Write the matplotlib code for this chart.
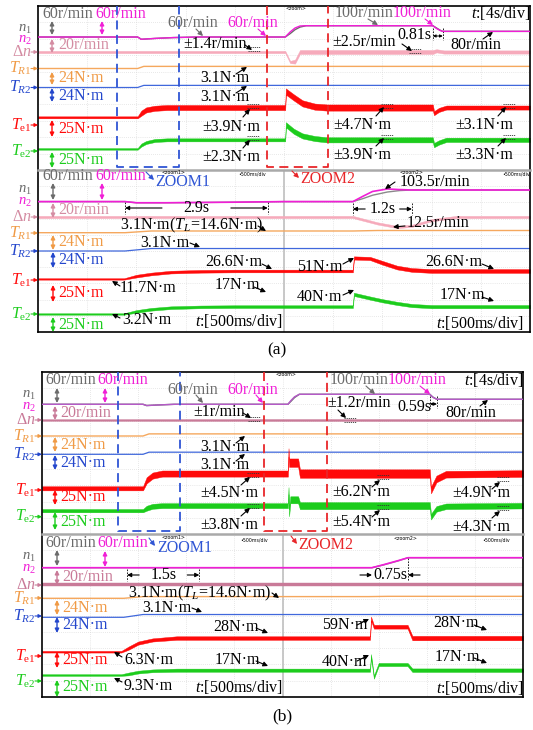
import numpy as np
import matplotlib.pyplot as plt

plt.rcParams['font.family'] = ['Liberation Serif', 'DejaVu Serif']
plt.rcParams['mathtext.fontset'] = 'custom'
plt.rcParams['mathtext.rm'] = 'Liberation Serif'
plt.rcParams['mathtext.it'] = 'Liberation Serif:italic'

W, H = 533, 730
FS = 11.5

C_N1 = '#6b6b6b'
C_N2 = '#f01ed6'
C_DN_A = '#f6aabb'
C_DN_AT = '#d48ca2'
C_DN_B = '#c97a98'
C_TR1 = '#f5a85e'
C_TR1T = '#f09a45'
C_TR2 = '#4068dc'
C_TR2T = '#2346cc'
C_TE1 = '#ff0a0a'
C_TE2 = '#1ccc1c'
C_Z1 = '#2f55d4'
C_Z2 = '#e8262a'

# ---------------- (a) overview, 4 s/div ----------------
a_tn = [0, 8.1, 8.4, 9.5, 11.0, 13.0, 20.1, 20.5, 20.9, 21.3, 21.8, 32.1, 32.4, 32.7, 32.9, 40]
a_n2 = [60, 60, 52, 55, 58, 60, 60, 78, 92, 99, 100, 100, 90, 83, 80, 80]
a_n1 = [60, 60, 52, 55, 58, 60, 60, 72, 86, 95, 100, 100, 92, 84, 80, 80]
a_tdn = [0, 20.1, 20.5, 20.9, 21.3, 32.1, 32.4, 33.0, 40]
a_dn = [0, 0, -12.5, -12, 0, 0, 1.5, 0, 0]
a_dn_rip = [1.4, 1.4, 1.4, 2.5, 2.5, 2.5, 2.0, 2.0, 2.0]
a_ttr = [0, 8.1, 8.6, 40]
a_tr1 = [0, 0, 3.1, 3.1]
a_tr2 = [0, 0, 3.1, 3.1]
a_tte = [0, 8.1, 8.4, 8.8, 9.5, 10.5, 20.1, 20.15, 20.8, 21.5, 22.5, 23.5, 32.1, 32.2, 32.6, 33.2, 40]
a_te1 = [11.7, 11.7, 18, 23, 25.5, 26.6, 26.6, 51, 42, 33, 28, 26.6, 26.6, 18, 23, 26.6, 26.6]
a_te2 = [3.2, 3.2, 9, 13, 16, 17, 17, 40, 30, 23, 19, 17, 17, 9, 13, 17, 17]
a_te1_rip = [1.5, 1.5, 3.9, 3.9, 3.9, 3.9, 3.9, 4.7, 4.7, 4.7, 4.7, 4.7, 4.7, 3.1, 3.1, 3.1, 3.1]
a_te2_rip = [1.2, 1.2, 2.3, 2.3, 2.3, 2.3, 2.3, 3.9, 3.9, 3.9, 3.9, 3.9, 3.9, 3.3, 3.3, 3.3, 3.3]
a_zoom1 = (6.4, 11.5)
a_zoom2 = (18.6, 23.6)
a_fall = (32.1, 32.91)

# ---------------- (a) zoomed, local time ----------------
az_tn = [0, 1.77, 2.0, 2.6, 4.0, 5.0, 6.4, 6.6, 6.8, 7.1, 7.35, 7.6, 10]
az_n2 = [60, 60, 56, 56, 58, 60, 60, 78, 95, 103.5, 101.5, 100, 100]
az_n1 = [60, 60, 56, 56, 58, 60, 60, 70, 82, 93, 98, 100, 100]
az_tdn = [0, 6.4, 6.9, 7.3, 7.6, 8.0, 8.5, 10]
az_dn = [0, 0, -8, -12.5, -11, -4, 0, 0]
az_dn_rip = [1.4, 1.4, 1.4, 1.4, 1.4, 1.4, 1.4, 1.4]
az_ttr = [0, 1.77, 2.3, 6.4, 6.9, 10]
az_tr1 = [0, 0, 3.1, 3.1, 4.0, 4.0]
az_tr2 = [0, 0, 3.1, 3.1, 3.1, 3.1]
az_tte = [0, 1.75, 2.0, 2.3, 2.7, 3.3, 4.0, 6.4, 6.42, 6.75, 7.0, 7.3, 7.6, 8.0, 10]
az_te1 = [11.7, 11.7, 17, 21, 24.5, 26, 26.6, 26.6, 51, 50, 42, 33, 28.5, 26.6, 26.6]
az_te2 = [3.2, 3.2, 8, 12, 15, 16.5, 17, 17, 40, 33, 28, 23, 19, 17, 17]
az_te1_rip = [1.3, 1.3, 2.5, 2.5, 2.5, 2.5, 2.5, 2.5, 3.0, 3.0, 3.5, 3.5, 3.5, 3.5, 3.5]
az_te2_rip = [1.3, 1.3, 2.5, 2.5, 2.5, 2.5, 2.5, 2.5, 3.0, 3.0, 3.0, 3.0, 3.0, 3.0, 3.0]
az_load = (1.77, 1.77 + 2.9)
az_speed = (6.4, 6.4 + 1.2)

# ---------------- (b) overview, 4 s/div ----------------
b_tn = [0, 8.4, 8.7, 9.5, 11.0, 20.45, 20.7, 21.0, 21.4, 32.25, 32.5, 32.84, 40]
b_n2 = [60, 60, 55, 57, 60, 60, 75, 90, 100, 100, 88, 80, 80]
b_n1 = [60, 60, 55, 57, 60, 60, 72, 87, 100, 100, 89, 80, 80]
b_tdn = [0, 20.45, 40]
b_dn = [0, 0, 0]
b_dn_rip = [1.0, 1.2, 1.2]
b_ttr = [0, 8.4, 8.9, 40]
b_tr1 = [0, 0, 3.1, 3.1]
b_tr2 = [0, 0, 3.1, 3.1]
b_tte = [0, 8.4, 8.7, 9.2, 10.0, 20.45, 20.5, 20.55, 20.65, 21.3, 21.45, 32.25, 32.35, 32.8, 33.6, 40]
b_te1 = [6.3, 6.3, 18, 25, 28, 28, 59, 44, 44, 44, 28, 28, 3.8, 20, 27, 28]
b_te2 = [9.3, 9.3, 13, 16, 17, 17, 40, 6, 26, 26, 17, 17, 0, 12, 16, 17]
b_te1_rip = [3.0, 3.0, 4.5, 4.5, 4.5, 4.5, 6.2, 6.2, 6.2, 6.2, 6.2, 6.2, 4.9, 4.9, 4.9, 4.9]
b_te2_rip = [2.5, 2.5, 3.8, 3.8, 3.8, 3.8, 5.4, 5.4, 5.4, 5.4, 5.4, 5.4, 4.3, 4.3, 4.3, 4.3]
b_zoom1 = (6.3, 11.5)
b_zoom2 = (18.5, 23.7)
b_fall = (32.25, 32.84)

# ---------------- (b) zoomed, local time ----------------
bz_tn = [0, 6.86, 7.1, 7.4, 7.61, 10]
bz_n2 = [60, 60, 72, 88, 100, 100]
bz_n1 = [60, 60, 71, 87, 100, 100]
bz_tdn = [0, 10]
bz_dn = [0, 0]
bz_dn_rip = [1.6, 1.6]
bz_ttr = [0, 1.7, 2.1, 6.8, 7.2, 10]
bz_tr1 = [0, 0, 3.1, 3.1, 3.6, 3.6]
bz_tr2 = [0, 0, 3.1, 3.1, 3.1, 3.1]
bz_tte = [0, 1.65, 1.8, 2.0, 2.3, 2.8, 6.82, 6.84, 6.9, 7.0, 7.6, 7.7, 10]
bz_te1 = [6.3, 6.3, 12, 20, 25, 28, 28, 59, 46, 46, 46, 28, 28]
bz_te2 = [9.3, 9.3, 11, 14, 16, 17, 17, 40, 6, 26, 26, 17, 17]
bz_te1_rip = [1.3, 1.3, 2.5, 2.5, 2.5, 2.8, 2.8, 3.0, 3.0, 3.0, 3.0, 3.5, 3.5]
bz_te2_rip = [1.3, 1.3, 2.2, 2.2, 2.2, 2.5, 2.5, 2.5, 2.5, 2.5, 2.5, 2.8, 2.8]
bz_load = (1.77, 1.77 + 1.5)
bz_speed = (6.86, 6.86 + 0.75)

# screen boxes (pixels) and channel ground row / pixels per unit
BOX = {'a': (38, 6, 530, 170), 'az': (38, 170, 530, 332),
       'b': (42, 372, 523, 534), 'bz': (42, 534, 523, 697)}
CH = {
    'a': dict(n=(54, 0.283), dn=(52, 0.8), tr1=(68.5, 0.683), tr2=(87.5, 0.683), te1=(125, 0.656), te2=(151, 0.656)),
    'az': dict(n=(219, 0.29), dn=(217, 0.8), tr1=(232.7, 0.55), tr2=(251, 0.8), te1=(285.2, 0.534), te2=(315.7, 0.534)),
    'b': dict(n=(419.3, 0.25), dn=(420, 0.8), tr1=(436, 0.683), tr2=(454.3, 0.683), te1=(492.6, 0.68), te2=(516.7, 0.65)),
    'bz': dict(n=(582.7, 0.25), dn=(584.3, 0.8), tr1=(598.3, 0.55), tr2=(617.3, 0.9), te1=(655.7, 0.63), te2=(680.9, 0.63)),
}

fig = plt.figure(figsize=(W / 100, H / 100), dpi=100)


def scope(key, tmax, centre=False):
    x0, y0, x1, y1 = BOX[key]
    ax = fig.add_axes([x0 / W, 1 - y1 / H, (x1 - x0) / W, (y1 - y0) / H])
    ax.set_xlim(0, tmax)
    ax.set_ylim(y1, y0)
    for k in range(1, 10):
        ax.axvline(tmax * k / 10, color='#d2d2d2', lw=0.5, ls=(0, (1, 2)), zorder=0)
        ax.axhline(y0 + (y1 - y0) * k / 10, color='#d2d2d2', lw=0.5, ls=(0, (1, 2)), zorder=0)
    if centre:
        ax.axvline(tmax / 2, color='#c4c4c4', lw=1.3, zorder=0)
    ax.set_xticks([])
    ax.set_yticks([])
    for s in ax.spines.values():
        s.set_linewidth(1.2)
    return ax


def trace(ax, key, ch, t, v, color, rip=None, lw=1.0, z=2):
    g, k = CH[key][ch]
    y = g - np.asarray(v, float) * k
    if rip is None:
        ax.plot(t, y, color=color, lw=lw, zorder=z)
    else:
        r = np.asarray(rip, float) * k
        ax.fill_between(t, y - r, y + r, color=color, lw=0.3, zorder=z)


def zoombox(ax, key, span, color):
    x0, y0, x1, y1 = BOX[key]
    ax.plot([span[0], span[0], span[1], span[1]], [y0, y1 - 3, y1 - 3, y0], color=color,
            lw=1.3, ls=(0, (5, 3)), zorder=5, clip_on=False)


def dim_out(ax, ta, tb, y, label, gap, tick=6):
    mid = (ta + tb) / 2
    for t in (ta, tb):
        ax.plot([t, t], [y - tick, y + tick], color='k', lw=0.6, ls=(0, (2, 1.5)))
    for a, b in ((mid - gap, ta), (mid + gap, tb)):
        ax.annotate('', xy=(b, y), xytext=(a, y), annotation_clip=False,
                    arrowprops=dict(arrowstyle='-|>', color='k', lw=0.8, mutation_scale=6, shrinkA=0, shrinkB=0))
    ax.text(mid, y, label, fontsize=FS, ha='center', va='center')


ax_a = scope('a', 40)
ax_az = scope('az', 10, centre=True)
ax_b = scope('b', 40)
ax_bz = scope('bz', 10, centre=True)
for top, low in ((ax_a, ax_az), (ax_b, ax_bz)):
    top.spines['bottom'].set_visible(False)
    low.spines['top'].set_color('#a9a9a9')
    low.spines['top'].set_linewidth(1.8)

# overview traces
trace(ax_a, 'a', 'dn', a_tdn, a_dn, C_DN_A, a_dn_rip)
trace(ax_a, 'a', 'tr1', a_ttr, a_tr1, C_TR1)
trace(ax_a, 'a', 'tr2', a_ttr, a_tr2, C_TR2, lw=0.9)
trace(ax_a, 'a', 'te1', a_tte, a_te1, C_TE1, a_te1_rip)
trace(ax_a, 'a', 'te2', a_tte, a_te2, C_TE2, a_te2_rip)
trace(ax_a, 'a', 'n', a_tn, a_n1, C_N1, lw=1.0)
trace(ax_a, 'a', 'n', a_tn, a_n2, C_N2, lw=1.0, z=3)
zoombox(ax_a, 'a', a_zoom1, C_Z1)
zoombox(ax_a, 'a', a_zoom2, C_Z2)

trace(ax_b, 'b', 'dn', b_tdn, b_dn, C_DN_B, b_dn_rip)
trace(ax_b, 'b', 'tr1', b_ttr, b_tr1, C_TR1)
trace(ax_b, 'b', 'tr2', b_ttr, b_tr2, C_TR2, lw=0.9)
trace(ax_b, 'b', 'te1', b_tte, b_te1, C_TE1, b_te1_rip)
trace(ax_b, 'b', 'te2', b_tte, b_te2, C_TE2, b_te2_rip)
trace(ax_b, 'b', 'n', b_tn, b_n1, C_N1, lw=1.0)
trace(ax_b, 'b', 'n', b_tn, b_n2, '#b55ac8', lw=1.0, z=3)
zoombox(ax_b, 'b', b_zoom1, C_Z1)
zoombox(ax_b, 'b', b_zoom2, C_Z2)

# zoomed traces
trace(ax_az, 'az', 'dn', az_tdn, az_dn, C_DN_A, az_dn_rip)
trace(ax_az, 'az', 'tr1', az_ttr, az_tr1, C_TR1)
trace(ax_az, 'az', 'tr2', az_ttr, az_tr2, C_TR2, lw=0.9)
trace(ax_az, 'az', 'te1', az_tte, az_te1, C_TE1, az_te1_rip)
trace(ax_az, 'az', 'te2', az_tte, az_te2, C_TE2, az_te2_rip)
trace(ax_az, 'az', 'n', az_tn, az_n1, '#8a8a8a', lw=1.0)
trace(ax_az, 'az', 'n', az_tn, az_n2, C_N2, lw=1.2, z=3)
dim_out(ax_az, *az_load, 208, '2.9s', 0.7)
dim_out(ax_az, *az_speed, 209, '1.2s', 0.35)

trace(ax_bz, 'bz', 'dn', bz_tdn, bz_dn, C_DN_B, bz_dn_rip)
trace(ax_bz, 'bz', 'tr1', bz_ttr, bz_tr1, C_TR1)
trace(ax_bz, 'bz', 'tr2', bz_ttr, bz_tr2, C_TR2, lw=0.9)
trace(ax_bz, 'bz', 'te1', bz_tte, bz_te1, C_TE1, bz_te1_rip)
trace(ax_bz, 'bz', 'te2', bz_tte, bz_te2, C_TE2, bz_te2_rip)
trace(ax_bz, 'bz', 'n', bz_tn, bz_n1, '#8a8a8a', lw=1.0)
trace(ax_bz, 'bz', 'n', bz_tn, bz_n2, C_N2, lw=1.2, z=3)
dim_out(ax_bz, *bz_load, 575, '1.5s', 0.5)
# 0.75 s: arrows point inwards
ta, tb = bz_speed
ax_bz.plot([tb, tb], [558, 581], color='k', lw=0.6, ls=(0, (2, 1.5)))
for a, b in ((ta - 0.25, ta), (tb + 0.25, tb)):
    ax_bz.annotate('', xy=(b, 575), xytext=(a, 575),
                   arrowprops=dict(arrowstyle='-|>', color='k', lw=0.8, mutation_scale=6, shrinkA=0, shrinkB=0))
ax_bz.text((ta + tb) / 2, 575, '0.75s', fontsize=FS, ha='center', va='center')

# speed-drop settling marks on the overviews
for ax, (ta, tb), y in ((ax_a, a_fall, 36), (ax_b, b_fall, 404)):
    for t in (ta, tb):
        ax.plot([t, t], [y - 8, y + 4], color='k', lw=0.6, ls=(0, (2, 1.5)))
    ax.annotate('', xy=(tb, y), xytext=(ta, y),
                arrowprops=dict(arrowstyle='<|-|>', color='k', lw=0.7, mutation_scale=4, shrinkA=0, shrinkB=0))

# ---------------- annotation layer (pixel coordinates) ----------------
ov = fig.add_axes([0, 0, 1, 1], zorder=10)
ov.set_xlim(0, W)
ov.set_ylim(H, 0)
ov.axis('off')
ov.patch.set_alpha(0)


def txt(x, y, s, c='k', fs=FS, ha='left', **kw):
    ov.text(x, y, s, color=c, fontsize=fs, ha=ha, va='center', **kw)


def arr(x1, y1, x2, y2, c='k', ms=7, lw=0.8):
    ov.annotate('', xy=(x2, y2), xytext=(x1, y1),
                arrowprops=dict(arrowstyle='-|>', color=c, lw=lw, mutation_scale=ms, shrinkA=0, shrinkB=0))


def span(x, ya, yb, c):
    ov.annotate('', xy=(x, yb), xytext=(x, ya),
                arrowprops=dict(arrowstyle='<|-|>', color=c, lw=1.0, mutation_scale=6, shrinkA=0, shrinkB=0))


def marks(x, y):
    for dy in (-2, 2):
        ov.plot([x - 5, x + 7], [y + dy, y + dy], color='#333333', lw=0.6, ls=(0, (1.5, 1)))


def tiny(x, y, s):
    ov.text(x, y, s, fontsize=3.4, ha='left', va='center', family='DejaVu Sans')


def channel_names(x0, rows, dn_col):
    names = [(r'$n_1$', C_N1), (r'$n_2$', C_N2), (r'$\Delta n$', dn_col),
             (r'$T_{R1}$', C_TR1T), (r'$T_{R2}$', C_TR2T),
             (r'$T_{\mathrm{e1}}$', C_TE1), (r'$T_{\mathrm{e2}}$', C_TE2)]
    for i, ((s, c), y) in enumerate(zip(names, rows)):
        if i < 2:
            txt(x0 - 13, y, s, c, fs=10.5, ha='center')
        else:
            txt(x0 - 6, y, s, c, ha='right')
            arr(x0 - 7, y, x0, y, c=c, ms=5, lw=0.8)


def scale_marks(xa, xb, rows):
    # rows: (y text, y span top, y span bottom, colour, text)
    for y, ya, yb, c, s in rows:
        span(xa, ya, yb, c)
        if s:
            txt(xb, y, s, c)


# ---- (a) overview ----
txt(42, 14, '60r/min', C_N1)
txt(95, 14, '60r/min', C_N2)
span(52, 21, 35, C_N1)
span(102, 21, 35, C_N2)
channel_names(38, [29, 40, 52, 68.5, 87.5, 125, 151], C_DN_AT)
scale_marks(52, 58, [(45, 39, 53, C_DN_AT, '20r/min'), (78, 72, 85, C_TR1T, '24N·m'),
                     (96, 88, 102, C_TR2T, '24N·m'), (129, 120, 137, C_TE1, '25N·m'),
                     (160, 152, 168, C_TE2, '25N·m')])
txt(167, 23, '60r/min', C_N1)
arr(196, 29, 203, 36, C_N1)
txt(227, 23, '60r/min', C_N2)
arr(258, 29, 266, 36, C_N2)
txt(183, 44, '±1.4r/min')
arr(245, 45, 252, 50)
marks(253, 49)
txt(200, 78, '3.1N·m')
arr(236, 74, 247, 67)
txt(200, 97, '3.1N·m')
arr(236, 93, 247, 86)
txt(202, 127, '±3.9N·m')
arr(243, 117, 250, 109)
marks(252, 106)
txt(202, 157, '±2.3N·m')
arr(243, 148, 250, 140)
marks(252, 138)
txt(335, 13, '100r/min', C_N1)
arr(368, 19, 378, 25, C_N1)
txt(393, 13, '100r/min', C_N2)
arr(425, 19, 433, 25, C_N2)
txt(471, 13, r'$t$:[4s/div]')
txt(332, 42, '±2.5r/min')
txt(397, 35, '0.81s')
arr(402, 44, 412, 51)
marks(414, 51)
txt(450, 45, '80r/min')
arr(483, 39, 493, 32)
txt(333, 125, '±4.7N·m')
arr(376, 116, 384, 107)
marks(386, 106)
txt(455, 125, '±3.1N·m')
arr(498, 116, 506, 107)
marks(508, 106)
txt(333, 155, '±3.9N·m')
arr(376, 146, 384, 138)
marks(386, 137)
txt(455, 155, '±3.3N·m')
arr(498, 146, 506, 138)
marks(508, 137)
tiny(285, 8, '<zoom>')

# ---- (a) zoomed ----
txt(42, 176, '60r/min', C_N1)
txt(95, 176, '60r/min', C_N2)
span(53, 183, 200, C_N1)
span(102, 183, 200, C_N2)
channel_names(38, [190, 202, 217, 233, 251, 280, 314], C_DN_AT)
scale_marks(53, 58, [(210, 203, 218, C_DN_AT, '20r/min'), (242, 235, 250, C_TR1T, '24N·m'),
                     (260, 252, 268, C_TR2T, '24N·m'), (293, 285, 302, C_TE1, '25N·m'),
                     (325, 317, 332, C_TE2, '25N·m')])
arr(146, 172, 154, 180, C_Z1)
txt(155, 182, 'ZOOM1', C_Z1)
tiny(162, 172.5, '<zoom1>')
tiny(238, 174, '•500ms/div')
tiny(502, 174, '•500ms/div')
arr(292, 171, 299, 178, C_Z2)
txt(300, 179, 'ZOOM2', C_Z2)
tiny(400, 172.5, '<zoom2>')
txt(120, 225, r'3.1N·m($T_L$=14.6N·m)')
arr(258, 226, 266, 231)
txt(140, 243, '3.1N·m')
arr(190, 243, 200, 247)
txt(205, 262, '26.6N·m')
arr(262, 264, 272, 269)
txt(120, 288, '11.7N·m')
arr(120, 286, 112, 281)
txt(215, 285, '17N·m')
arr(254, 287, 266, 292)
txt(122, 320, '3.2N·m')
arr(120, 318, 112, 314)
txt(195, 321, r'$t$:[500ms/div]')
txt(400, 182, '103.5r/min')
arr(395, 182, 385, 189)
txt(407, 223, '12.5r/min')
arr(405, 226, 393, 227)
txt(297, 267, '51N·m')
arr(343, 264, 354, 258)
txt(425, 262, '26.6N·m')
arr(482, 264, 494, 269)
txt(297, 297, '40N·m')
arr(343, 295, 354, 290)
txt(440, 295, '17N·m')
arr(482, 297, 494, 301)
txt(436, 323, r'$t$:[500ms/div]')
txt(277, 350, '(a)', fs=12.5, ha='center')

# ---- (b) overview ----
txt(45, 380, '60r/min', C_N1)
txt(97, 380, '60r/min', C_N2)
span(57, 388, 403, C_N1)
span(105, 388, 403, C_N2)
channel_names(42, [395, 407, 420, 436, 454.3, 490, 516.7], C_DN_B)
scale_marks(55, 60, [(413, 406, 420, C_DN_B, '20r/min'), (445, 437, 452, C_TR1T, '24N·m'),
                     (463, 455, 470, C_TR2T, '24N·m'), (497, 490, 505, C_TE1, '25N·m'),
                     (522, 512, 530, C_TE2, '25N·m')])
txt(167, 390, '60r/min', C_N1)
arr(196, 395, 203, 403, C_N1)
txt(227, 390, '60r/min', C_N2)
arr(256, 395, 263, 403, C_N2)
txt(193, 412, '±1r/min')
arr(243, 413, 251, 418)
marks(253, 419)
txt(200, 447, '3.1N·m')
arr(236, 443, 245, 436)
txt(200, 465, '3.1N·m')
arr(236, 461, 245, 454)
txt(200, 493, '±4.5N·m')
arr(241, 485, 250, 477)
marks(252, 475)
txt(200, 525, '±3.8N·m')
arr(241, 516, 250, 508)
marks(252, 506)
txt(330, 380, '100r/min', C_N1)
arr(366, 386, 375, 394, C_N1)
txt(388, 380, '100r/min', C_N2)
arr(420, 386, 430, 394, C_N2)
txt(464, 380, r'$t$:[4s/div]')
txt(327, 403, '±1.2r/min')
arr(338, 410, 346, 418)
marks(349, 420)
txt(397, 407, '0.59s')
txt(445, 413, '80r/min')
arr(480, 406, 488, 400)
txt(332, 492, '±6.2N·m')
arr(372, 487, 380, 480)
marks(382, 477)
txt(452, 493, '±4.9N·m')
arr(492, 489, 500, 482)
marks(502, 479)
txt(332, 522, '±5.4N·m')
arr(372, 517, 380, 510)
marks(382, 507)
txt(452, 527, '±4.3N·m')
arr(492, 518, 500, 511)
marks(502, 508)
tiny(276, 374, '<zoom>')

# ---- (b) zoomed ----
txt(45, 543, '60r/min', C_N1)
txt(97, 543, '60r/min', C_N2)
span(57, 550, 566, C_N1)
span(105, 551, 567, C_N2)
channel_names(42, [557, 569, 585, 598, 616, 656, 681], C_DN_B)
scale_marks(57, 62, [(577, 570, 585, C_DN_B, '20r/min'), (608, 600, 615, C_TR1T, '24N·m'),
                     (625, 617, 633, C_TR2T, '24N·m'), (660, 652, 668, C_TE1, '25N·m'),
                     (687, 680, 697, C_TE2, '25N·m')])
arr(149, 538, 155, 546, C_Z1)
txt(157, 548, 'ZOOM1', C_Z1)
tiny(162, 537.5, '<zoom1>')
tiny(240, 540, '•500ms/div')
tiny(482, 540, '•500ms/div')
arr(291, 536, 297, 544, C_Z2)
txt(298, 545, 'ZOOM2', C_Z2)
tiny(393, 538, '<zoom2>')
txt(128, 593, r'3.1N·m($T_L$=14.6N·m)')
arr(272, 593, 279, 598)
txt(142, 608, '3.1N·m')
arr(192, 608, 202, 612)
txt(213, 627, '28N·m')
arr(256, 628, 268, 633)
txt(124, 660, '6.3N·m')
arr(122, 657, 114, 652)
txt(215, 660, '17N·m')
arr(256, 661, 268, 666)
txt(124, 686, '9.3N·m')
arr(122, 682, 114, 678)
txt(195, 687, r'$t$:[500ms/div]')
txt(322, 625, '59N·m')
arr(357, 625, 369, 619)
txt(433, 623, '28N·m')
arr(474, 625, 487, 630)
txt(322, 662, '40N·m')
arr(357, 661, 369, 655)
txt(435, 657, '17N·m')
arr(474, 658, 487, 663)
txt(436, 688, r'$t$:[500ms/div]')
txt(282, 716, '(b)', fs=12.5, ha='center')

fig.savefig('out.png', dpi=100)
